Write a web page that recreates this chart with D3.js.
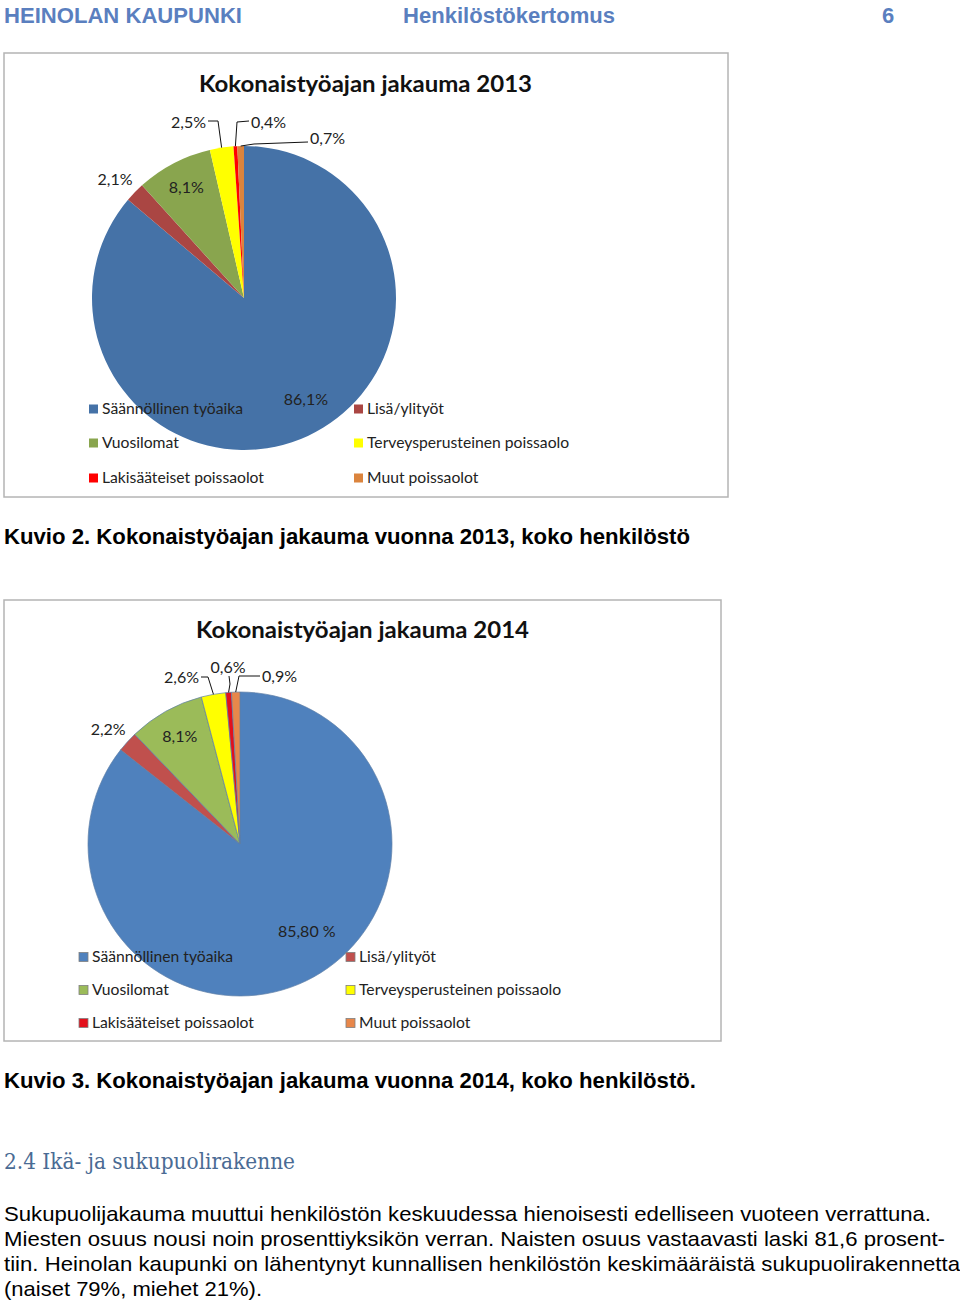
<!DOCTYPE html>
<html>
<head>
<meta charset="utf-8">
<script src="https://cdn.jsdelivr.net/npm/d3@7"></script>
<style>
  body { margin: 0; background: #fff; }
  svg text { font-family: Lato, "Open Sans", sans-serif; }
</style>
</head>
<body>
<svg id="page" width="960" height="1305"></svg>
<script>
// data
const categories = ['Säännöllinen työaika', 'Lisä/ylityöt', 'Vuosilomat',
  'Terveysperusteinen poissaolo', 'Lakisääteiset poissaolot', 'Muut poissaolot']
const values2013 = [86.1, 2.1, 8.1, 2.5, 0.4, 0.7]
const labels2013 = ['86,1%', '2,1%', '8,1%', '2,5%', '0,4%', '0,7%']
const values2014 = [85.8, 2.2, 8.1, 2.6, 0.6, 0.9]
const labels2014 = ['85,80 %', '2,2%', '8,1%', '2,6%', '0,6%', '0,9%']
const colors2013 = ['#4572A7', '#AA4643', '#89A54E', '#FFFF00', '#FF0000', '#DB843D']
const colors2014 = ['#4F81BD', '#C0504D', '#9BBB59', '#FFFF00', '#E3101C', '#E8874A']

const bodyLines = [
  'Sukupuolijakauma muuttui henkilöstön keskuudessa hienoisesti edelliseen vuoteen verrattuna.',
  'Miesten osuus nousi noin prosenttiyksikön verran. Naisten osuus vastaavasti laski 81,6 prosent-',
  'tiin. Heinolan kaupunki on lähentynyt kunnallisen henkilöstön keskimääräistä sukupuolirakennetta',
  '(naiset 79%, miehet 21%).'
]

const svg = d3.select('#page')

// page header
const hdr = svg.append('g').attr('font-weight', 'bold').attr('fill', '#5A7FBF')
hdr.append('text').attr('x', 4).attr('y', 23).attr('font-size', 22)
  .attr('textLength', 238).attr('lengthAdjust', 'spacingAndGlyphs')
  .style('font-family', '"Liberation Sans", Arial, sans-serif').text('HEINOLAN KAUPUNKI')
hdr.append('text').attr('x', 403).attr('y', 23).attr('font-size', 22)
  .attr('textLength', 212).attr('lengthAdjust', 'spacingAndGlyphs')
  .style('font-family', '"Liberation Sans", Arial, sans-serif').text('Henkilöstökertomus')
hdr.append('text').attr('x', 882).attr('y', 23).attr('font-size', 22)
  .style('font-family', '"Liberation Sans", Arial, sans-serif').text('6')

const drawChart = (opt) => {

  const g = svg.append('g')

  g.append('rect')
  .attr('x', opt.frame[0]).attr('y', opt.frame[1])
  .attr('width', opt.frame[2]).attr('height', opt.frame[3])
  .attr('fill', '#fff').attr('stroke', '#B4B4B4').attr('stroke-width', 1.5)

  g.append('text')
  .attr('x', opt.titleX).attr('y', opt.titleY)
  .attr('font-size', 22).attr('font-weight', 'bold').attr('fill', '#111')
  .attr('textLength', 333).attr('lengthAdjust', 'spacingAndGlyphs')
  .text(opt.title)

  const pie = d3.pie().sort(null).value(d => d)
  const arcs = pie(opt.values)
  const arc = d3.arc().innerRadius(0).outerRadius(opt.r)

  const pg = g.append('g').attr('transform', `translate(${opt.cx},${opt.cy})`)

  pg.selectAll('path')
  .data(arcs)
  .enter()
  .append('path')
  .attr('d', arc)
  .attr('fill', (d, i) => opt.colors[i])
  .attr('stroke', opt.sliceStroke || 'none')
  .attr('stroke-width', 0.7)
  .attr('stroke-linejoin', 'round')

  // legend (two columns, row-major) drawn over the pie
  const lg = g.append('g')
  categories.forEach((c, i) => {
    const col = i % 2, row = Math.floor(i / 2)
    const x = opt.legendX[col], y = opt.legendY[row]
    lg.append('rect')
    .attr('x', x).attr('y', y - 4.5).attr('width', 9).attr('height', 9)
    .attr('fill', opt.colors[i])
    .attr('stroke', opt.legendStroke || 'none').attr('stroke-width', 0.8)
    lg.append('text')
    .attr('x', x + opt.legendGap).attr('y', y).attr('dy', '0.35em')
    .attr('font-size', 15.7).attr('fill', '#222')
    .text(c)
  })

  // data labels
  const lab = pg.append('g').attr('font-size', 16).attr('fill', '#222')
  arcs.forEach((d, i) => {
    const L = opt.layout[i]
    const mid = (d.startAngle + d.endAngle) / 2
    if (L.k) {
      const rr = opt.r * L.k
      lab.append('text')
      .attr('x', rr * Math.sin(mid) + (L.dx || 0))
      .attr('y', -rr * Math.cos(mid) + (L.dy || 0))
      .attr('dy', '0.35em').attr('text-anchor', 'middle')
      .text(opt.labels[i])
    } else {
      const ax = opt.r * Math.sin(mid), ay = -opt.r * Math.cos(mid)
      lab.append('path')
      .attr('d', d3.line()([[ax, ay], L.elbow, L.end]))
      .attr('fill', 'none').attr('stroke', '#111').attr('stroke-width', 1)
      lab.append('text')
      .attr('x', L.text[0]).attr('y', L.text[1])
      .attr('dy', '0.35em').attr('text-anchor', L.anchor)
      .text(opt.labels[i])
    }
  })
}

drawChart({
  frame: [4, 53, 724, 444],
  title: 'Kokonaistyöajan jakauma 2013', titleX: 199, titleY: 92,
  values: values2013, labels: labels2013, colors: colors2013,
  cx: 244, cy: 298, r: 152,
  legendX: [89, 354], legendY: [409, 443, 478], legendGap: 13,
  layout: [
    { k: 0.78, dx: 12, dy: -6 },
    { k: 1.18, dx: 0, dy: 6 },
    { k: 0.82 },
    { elbow: [-26, -177], end: [-36, -177], text: [-38, -176], anchor: 'end' },
    { elbow: [-7, -176], end: [5, -177], text: [7, -176], anchor: 'start' },
    { elbow: [10, -154], end: [64, -156], text: [66, -160], anchor: 'start' }
  ]
})

drawChart({
  frame: [4, 600, 717, 441],
  title: 'Kokonaistyöajan jakauma 2014', titleX: 196, titleY: 638,
  values: values2014, labels: labels2014, colors: colors2014,
  cx: 240, cy: 844, r: 152,
  sliceStroke: '#5F7FA8', legendStroke: '#7F7F7F',
  legendX: [79, 346], legendY: [957, 990, 1023], legendGap: 13,
  layout: [
    { k: 0.72, dx: 19, dy: -11 },
    { k: 1.18, dx: 1, dy: 6 },
    { k: 0.81 },
    { elbow: [-32, -167], end: [-39, -167], text: [-41, -167], anchor: 'end' },
    { elbow: [-10, -160], end: [-11, -168], text: [-12, -177], anchor: 'middle' },
    { elbow: [-1, -168], end: [20, -168], text: [22, -168], anchor: 'start' }
  ]
})

// captions
const cap = svg.append('g').attr('font-weight', 'bold').attr('fill', '#000')
cap.append('text').attr('x', 4).attr('y', 544).attr('font-size', 22)
  .style('font-family', '"Liberation Sans", Arial, sans-serif')
  .attr('textLength', 686).attr('lengthAdjust', 'spacingAndGlyphs')
  .text('Kuvio 2. Kokonaistyöajan jakauma vuonna 2013, koko henkilöstö')
cap.append('text').attr('x', 4).attr('y', 1088).attr('font-size', 22)
  .style('font-family', '"Liberation Sans", Arial, sans-serif')
  .attr('textLength', 692).attr('lengthAdjust', 'spacingAndGlyphs')
  .text('Kuvio 3. Kokonaistyöajan jakauma vuonna 2014, koko henkilöstö.')

// section heading
svg.append('text').attr('x', 4).attr('y', 1169).attr('font-size', 23)
  .style('font-family', '"DejaVu Serif", "Liberation Serif", serif')
  .attr('fill', '#4A6B94')
  .attr('textLength', 291).attr('lengthAdjust', 'spacingAndGlyphs')
  .text('2.4 Ikä- ja sukupuolirakenne')

// body text
const bodyWidths = [927, 941, 956, 258]
svg.append('g').selectAll('text')
.data(bodyLines)
.enter()
.append('text')
.attr('x', 4)
.attr('y', (d, i) => 1221 + i * 25)
.attr('font-size', 21)
.attr('fill', '#000')
.style('font-family', '"Liberation Sans", Arial, sans-serif')
.attr('textLength', (d, i) => bodyWidths[i])
.attr('lengthAdjust', 'spacingAndGlyphs')
.text(d => d)
</script>
</body>
</html>
